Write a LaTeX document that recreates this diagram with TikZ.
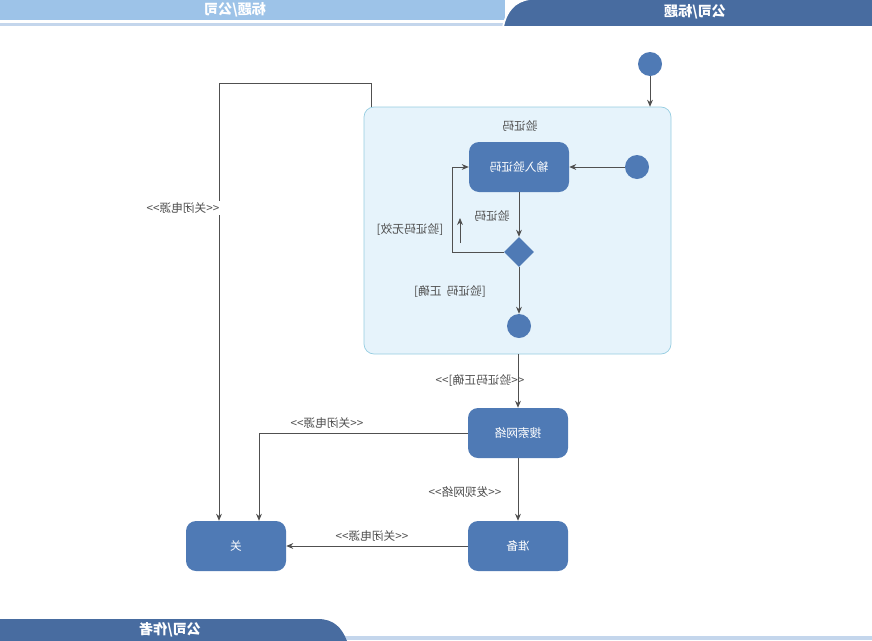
\documentclass[tikz,border=0pt]{standalone}
\usepackage{fontspec}
\usepackage{graphicx}
\newfontfamily\cjk{Noto Sans CJK SC}
\usetikzlibrary{positioning,shapes.geometric,arrows.meta}

\definecolor{hdrdark}{RGB}{72,108,160}
\definecolor{hdrlight}{RGB}{157,195,232}
\definecolor{hdrline}{RGB}{196,214,236}
\definecolor{stateblue}{RGB}{79,122,181}
\definecolor{boxfill}{RGB}{230,243,251}
\definecolor{boxline}{RGB}{150,205,225}
\definecolor{flowgray}{RGB}{80,80,80}

% mirrored text, as in the reference
\newcommand{\mir}[1]{\reflectbox{#1}}

\tikzset{
  state/.style={fill=stateblue, rounded corners=0.3cm, minimum width=3cm,
    minimum height=1.5cm, text=white, font=\cjk\fontsize{10}{12}\selectfont},
  dot/.style={circle, fill=stateblue, minimum size=0.72cm, inner sep=0pt},
  choice/.style={diamond, fill=stateblue, minimum width=0.9cm, minimum height=0.9cm, inner sep=0pt},
  flow/.style={-{Stealth[length=6pt,width=5pt]}, draw=flowgray, line width=0.7pt},
  lbl/.style={text=flowgray, font=\cjk\fontsize{10}{12}\selectfont, inner sep=1pt},
  hdr/.style={text=white, font=\cjk\bfseries\fontsize{12}{14}\selectfont}
}

\begin{document}
\begin{tikzpicture}[x=0.03cm, y=-0.03cm]
    \useasboundingbox (0,0) rectangle (872,640);

    % Header and footer bars
    \fill[hdrlight] (0,0) rectangle (505,20);
    \fill[hdrline] (0,23) rectangle (505,26);
    \fill[hdrdark, draw=white, line width=1.5pt] (503,27) .. controls (506,12) and (514,1) .. (530,-1)
        -- (874,-1) -- (874,27) -- cycle;
    \node[hdr] (ttl1) at (235,10) {\mir{标题/公司}};
    \node[hdr] (ttl2) at (695,12) {\mir{公司/标题}};

    \fill[hdrline] (340,636) rectangle (872,640);
    \fill[hdrdark] (0,619) -- (318,619) .. controls (334,619) and (342,628) .. (347,641) -- (0,641) -- cycle;
    \node[hdr] (auth) at (170,630) {\mir{公司/作者}};

    % Composite state
    \draw[fill=boxfill, draw=boxline, rounded corners=0.3cm, line width=0.6pt] (364,107) rectangle (671,354);
    \node (box) at (517.5,230.5) [minimum width=9.21cm, minimum height=7.41cm] {};
    \node[lbl] (boxttl) at (520,126) {\mir{验证码}};

    % States
    \node[dot] (start) at (650,64) {};
    \node[state] (input) at (519,167) {\mir{输入验证码}};
    \node[dot] (start2) at (637,167) {};
    \node[choice] (check) at (519,252) {};
    \node[dot] (stop) at (519,326) {};
    \node[state] (search) at (518,433) {\mir{搜索网络}};
    \node[state] (ready) at (518,546) {\mir{准备}};
    \node[state] (off) at (236,546) {\mir{关}};

    % Transitions
    \draw[flow] (start) -- (start |- box.north);
    \draw[flow] (start2) -- (input);
    \draw[flow] (input) -- (check);
    \draw[flow] (check.west) -- ++(-51,0) |- (input.west);
    \coordinate (hintA) at (460,243);
    \coordinate (hintB) at (460,218);
    \draw[flow] (hintA) -- (hintB);
    \draw[flow] (check) -- (stop);
    \draw[flow] (box.south -| search) -- (search);
    \draw[flow] (search) -- (ready);
    \draw[flow] (ready) -- (off);
    \draw[flow] (search.west) -| ([xshift=0.69cm]off.north);
    \coordinate (k1) at (219,83);
    \draw[flow] (box.north west) ++(8,0) |- (k1) -- (k1 |- off.north);

    % Labels
    \node[lbl] (l1) at (492,216) {\mir{验证码}};
    \node[lbl] (l2) at (410,230) {\mir{[验证码无效]}};
    \node[lbl] (l3) at (450,292) {\mir{[验证码\ \ 正确]}};
    \node[lbl] (l4) at (480,381) {\mir{<<验证码正确]>>}};
    \node[lbl] (l5) at (327,423) {\mir{<<关闭电源>>}};
    \node[lbl] (l6) at (465,492) {\mir{<<发现网络>>}};
    \node[lbl] (l7) at (372,536) {\mir{<<关闭电源>>}};
    \node[lbl, fill=white] (l8) at (183,208) {\mir{<<关闭电源>>}};
\end{tikzpicture}
\end{document}
